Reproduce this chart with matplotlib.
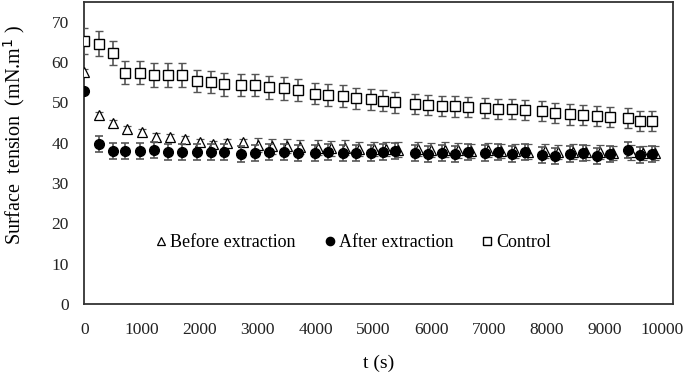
import matplotlib
matplotlib.use("Agg")
import matplotlib.pyplot as plt

# ---- data ----
t_control = [0, 250, 490, 710, 970, 1210, 1450, 1700, 1950, 2190, 2420, 2720, 2960, 3200,
             3460, 3690, 3990, 4220, 4470, 4700, 4960, 5170, 5380, 5720, 5950, 6190, 6420,
             6640, 6930, 7160, 7400, 7630, 7920, 8150, 8410, 8630, 8870, 9100, 9410, 9620, 9820]
control = [65.3, 64.6, 62.3, 57.4, 57.4, 56.8, 56.8, 56.8, 55.3, 55.1, 54.5, 54.3, 54.3, 53.7,
           53.5, 53.1, 52.2, 51.8, 51.6, 51.0, 50.8, 50.4, 50.0, 49.6, 49.4, 49.2, 49.0,
           48.9, 48.7, 48.4, 48.3, 48.2, 47.8, 47.3, 47.0, 46.8, 46.6, 46.4, 46.2, 45.4, 45.4]
control_err = [3.2, 3.0, 3.0, 2.9, 2.9, 2.9, 2.9, 2.9, 2.8, 2.8, 2.8, 2.8, 2.8, 2.8,
               2.8, 2.7, 2.7, 2.7, 2.7, 2.6, 2.6, 2.6, 2.6, 2.5, 2.5, 2.5, 2.5,
               2.5, 2.5, 2.5, 2.5, 2.5, 2.5, 2.5, 2.5, 2.5, 2.5, 2.5, 2.5, 2.5, 2.5]

t_before = [0, 250, 490, 740, 1000, 1240, 1490, 1740, 2000, 2230, 2470, 2750, 3010, 3250,
            3510, 3740, 4040, 4270, 4520, 4750, 5010, 5220, 5430, 5770, 6000, 6240, 6470,
            6690, 6980, 7210, 7450, 7680, 7970, 8200, 8460, 8680, 8920, 9150, 9460, 9670, 9870]
before = [57.6, 46.9, 44.8, 43.3, 42.7, 41.5, 41.3, 40.8, 40.2, 39.6, 40.0, 40.2, 39.4, 39.1,
          39.2, 38.9, 38.8, 38.6, 38.8, 38.5, 38.4, 38.5, 38.3, 38.4, 38.2, 38.3, 38.1,
          38.0, 38.2, 37.9, 38.0, 37.8, 37.9, 37.7, 37.8, 37.6, 37.7, 37.5, 37.6, 37.4, 37.4]
before_err = [0.8, 0.8, 0.8, 0.8, 0.8, 0.8, 0.8, 0.8, 0.8, 0.8, 0.8, 0.8, 1.8, 1.8,
              1.8, 1.8, 1.8, 1.8, 1.8, 1.8, 1.8, 1.8, 1.8, 1.8, 1.8, 1.8, 1.8,
              1.8, 1.8, 1.8, 1.8, 1.8, 1.8, 1.8, 1.8, 1.8, 1.8, 1.8, 1.8, 1.8, 1.8]

t_after = t_control
after = [52.9, 39.7, 38.0, 38.0, 38.0, 38.2, 37.8, 37.8, 37.8, 37.8, 37.8, 37.2, 37.5, 37.8,
         37.8, 37.5, 37.5, 37.8, 37.5, 37.5, 37.5, 37.8, 38.0, 37.5, 37.3, 37.5, 37.3,
         37.8, 37.5, 37.8, 37.2, 37.8, 37.0, 36.8, 37.3, 37.5, 36.6, 37.2, 38.3, 37.0, 37.3]
after_err = [0.0, 2.0, 2.0, 2.0, 2.0, 2.0, 2.0, 2.0, 2.0, 2.0, 2.0, 2.0, 2.0, 2.0,
             2.0, 2.0, 2.0, 2.0, 2.0, 2.0, 2.0, 2.0, 2.0, 2.0, 2.0, 2.0, 2.0,
             2.0, 2.0, 2.0, 2.0, 2.0, 2.0, 2.0, 2.0, 2.0, 2.0, 2.0, 2.0, 2.0, 2.0]

x_ticks = [0, 1000, 2000, 3000, 4000, 5000, 6000, 7000, 8000, 9000, 10000]
y_ticks = [0, 10, 20, 30, 40, 50, 60, 70]

plt.rcParams['font.family'] = ['Liberation Serif', 'DejaVu Serif']

fig = plt.figure(figsize=(6.85, 3.78), dpi=100)
ax = fig.add_axes([84.2 / 685, 1 - 304 / 378, (672.7 - 84.2) / 685, (304 - 2) / 378])

ecol = '#555555'
ax.errorbar(t_control, control, yerr=control_err, fmt='s', ms=7.2, mfc='white', mec='black',
            mew=1.0, ecolor=ecol, elinewidth=1.2, capsize=3, capthick=1.2, label='Control', zorder=3)
ax.errorbar(t_before, before, yerr=before_err, fmt='^', ms=6.5, mfc='white', mec='black',
            mew=0.9, ecolor=ecol, elinewidth=1.2, capsize=3, capthick=1.2,
            label='Before extraction', zorder=4)
ax.errorbar(t_after, after, yerr=after_err, fmt='o', ms=7, mfc='black', mec='black',
            ecolor=ecol, elinewidth=1.2, capsize=3, capthick=1.2,
            label='After extraction', zorder=5)

ax.set_xlim(0, 10180)
ax.set_ylim(0, 74.9)
ax.set_xticks(x_ticks)
ax.set_yticks(y_ticks)
ax.tick_params(length=0, labelsize=12.5, colors='#222222')
ax.tick_params(axis='x', pad=13)
ax.tick_params(axis='y', pad=11)
for s in ax.spines.values():
    s.set_color('#333333')
    s.set_linewidth(1.3)

ax.set_xlabel('t (s)', fontsize=14, labelpad=12)
ax.set_ylabel('Surface  tension  (mN.m$^{1}$ )', fontsize=14.5)
ax.yaxis.set_label_coords(-0.098, 0.56)

handles, labels = ax.get_legend_handles_labels()
order = [1, 2, 0]
leg = ax.legend([handles[i][0] for i in order], [labels[i] for i in order],
                loc='center', bbox_to_anchor=(0.454, 0.203), ncol=3, frameon=False,
                fontsize=13, handletextpad=0.0, columnspacing=1.4, handlelength=1.0,
                markerscale=0.85)

fig.savefig('out.png', dpi=100)
